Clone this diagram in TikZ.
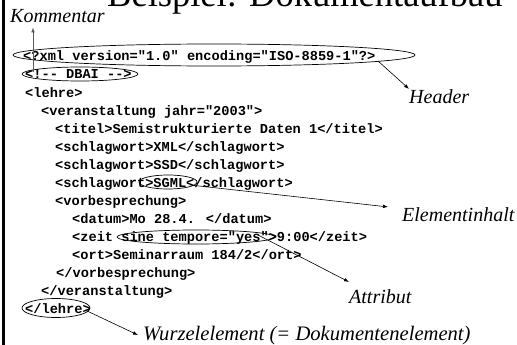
\documentclass[tikz,border=0pt]{standalone}
\usepackage{fontspec}
\setmainfont{Liberation Serif}
\newfontfamily\codefont{Liberation Mono}
\usetikzlibrary{arrows.meta,shapes.geometric}
\begin{document}
\begin{tikzpicture}[x=1pt,y=-1pt,
  code/.style={anchor=base west,inner sep=0pt,font=\codefont\bfseries\fontsize{13.65}{16}\selectfont},
  lbl/.style={anchor=base west,inner sep=0pt,font=\itshape\fontsize{20}{24}\selectfont},
  ring/.style={draw,ellipse,line width=0.7pt,inner sep=0pt},
  conn/.style={line width=0.6pt,-{Latex[length=5pt,width=3.6pt]}}]
\clip (0,0) rectangle (517,345);
% frame edge and title
\draw[line width=2.8pt] (3.4,0) -- (3.4,345);
\node[anchor=base west,inner sep=0pt,font=\fontsize{36.5}{40}\selectfont] (title) at (107,7) {Beispiel: Dokumentaufbau};
% code lines
\node[code] (l1) at (23,61) {<?xml version="1.0" encoding="ISO-8859-1"?>};
\node[code] (l2) at (25,79) {<!-{}- DBAI -{}->};
\node[code] (l3) at (25,97) {<lehre>};
\node[code] (l4) at (41,115) {<veranstaltung jahr="2003">};
\node[code] (l5) at (55,133) {<titel>Semistrukturierte Daten 1</titel>};
\node[code] (l6) at (55,151) {<schlagwort>XML</schlagwort>};
\node[code] (l7) at (55,169) {<schlagwort>SSD</schlagwort>};
\node[code] (l8) at (55,187) {<schlagwort>SGML</schlagwort>};
\node[code] (l9) at (55,205) {<vorbesprechung>};
\node[code] (l10) at (72,223) {<datum>Mo 28.4. </datum>};
\node[code] (l11) at (72,241) {<zeit sine tempore="yes">9:00</zeit>};
\node[code] (l12) at (72,259) {<ort>Seminarraum 184/2</ort>};
\node[code] (l13) at (56,277) {</vorbesprechung>};
\node[code] (l14) at (41,295) {</veranstaltung>};
\node[code] (l15) at (25,313) {</lehre>};
% ellipses
\node[ring,minimum width=402pt,minimum height=22pt] (exml) at (214,55) {};
\node[ring,minimum width=116pt,minimum height=14pt] (edbai) at (80,74) {};
\node[ring,minimum width=58pt,minimum height=14pt] (esgml) at (168,182) {};
\node[ring,minimum width=158pt,minimum height=14pt] (ezeit) at (196,237) {};
\node[ring,minimum width=68pt,minimum height=19pt] (elehre) at (56,308) {};
% labels
\node[lbl] (km) at (10,23) {Kommentar};
\node[lbl] (hdr) at (409,103) {Header};
\node[lbl] (eih) at (402,221) {Elementinhalt};
\node[lbl] (att) at (349,303) {Attribut};
\node[lbl,font=\itshape\fontsize{20.6}{24}\selectfont] (wz) at (143,340) {Wurzelelement (= Dokumentenelement)};
% connector start points on the ellipses
\coordinate (ks) at (33,72);
\coordinate (hs) at (378,61);
\coordinate (es) at (190,185);
\coordinate (as) at (258,235);
\coordinate (ws) at (85,310);
% connectors
\draw[conn,draw=black!65] (ks) -- ([yshift=-4pt]ks |- km.south);
\draw[conn] (hs) -- (hdr.north west);
\draw[conn] (es) -- ([xshift=-14pt]eih.north west);
\draw[conn] (as) -- ([yshift=7pt]att.north west);
\draw[conn] (ws) -- ([xshift=-5pt]wz.west);
\end{tikzpicture}
\end{document}
